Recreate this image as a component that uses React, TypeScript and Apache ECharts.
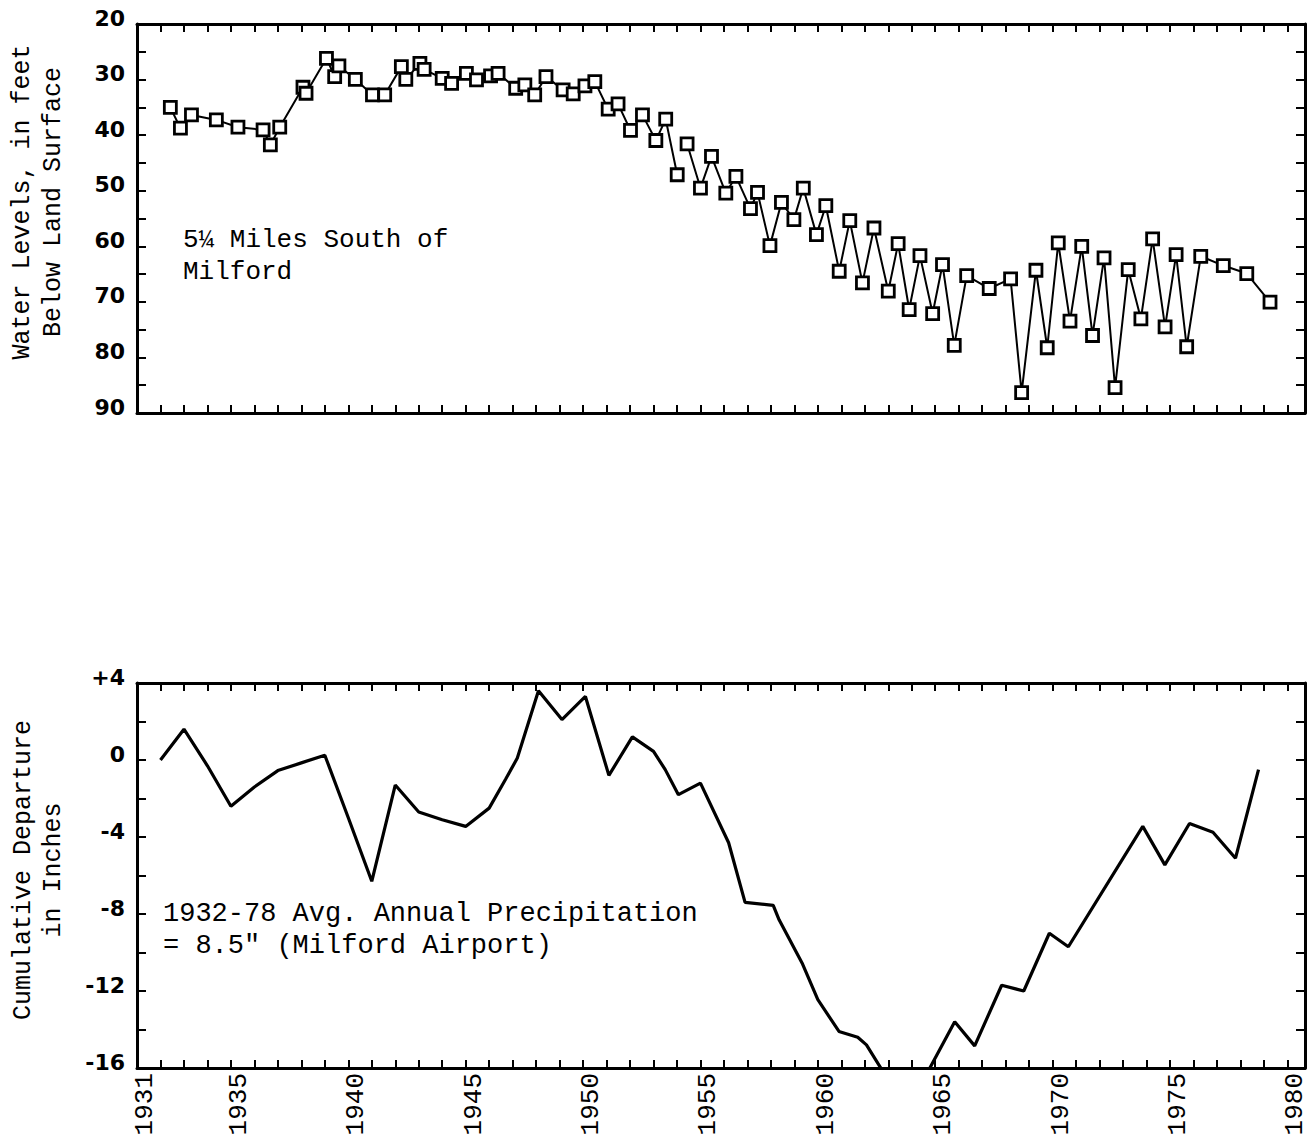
import React, { useEffect, useRef } from "react";
import * as echarts from "echarts";

// Water levels (feet below land surface), 5 1/4 miles south of Milford
const levelYears = [
  1932.42, 1932.85, 1933.32, 1934.38, 1935.3, 1936.37, 1936.68, 1937.08, 1938.07, 1938.2,
  1939.07, 1939.42, 1939.6, 1940.3, 1941.03, 1941.55, 1942.26, 1942.45, 1943.05, 1943.23,
  1944.0, 1944.4, 1945.03, 1945.46, 1946.06, 1946.38, 1947.13, 1947.52, 1947.94, 1948.42,
  1949.15, 1949.58, 1950.08, 1950.5, 1951.07, 1951.49, 1952.02, 1952.53, 1953.1, 1953.52,
  1954.01, 1954.2, 1954.43, 1955.0, 1955.47, 1956.08, 1956.51, 1957.13, 1957.43, 1957.96,
  1958.45, 1958.98, 1959.38, 1959.94, 1960.34, 1960.91, 1961.36, 1961.9, 1962.39, 1963.0,
  1963.42, 1963.89, 1964.35, 1964.89, 1965.31, 1965.81, 1966.34, 1967.3, 1968.21, 1968.68,
  1969.29, 1969.77, 1970.24, 1970.74, 1971.24, 1971.7, 1972.19, 1972.66, 1973.22, 1973.76,
  1974.26, 1974.79, 1975.26, 1975.71, 1976.31, 1977.27, 1978.27, 1979.26,
];
const levelValues: (number | null)[] = [
  35.0, 38.75, 36.36, 37.26, 38.57, 39.05, 41.75, 38.57, 31.38, 32.46,
  26.17, 29.47, 27.55, 29.95, 32.76, 32.76, 27.67, 29.95, 27.07, 28.15,
  29.77, 30.67, 28.87, 30.07, 29.35, 28.87, 31.56, 30.96, 32.76, 29.47,
  31.86, 32.58, 31.14, 30.37, 35.33, 34.37, 39.16, 36.35, 40.96, 37.13,
  47.13, null, 41.56, 49.52, 43.83, 50.42, 47.43, 53.23, 50.3, 59.88,
  52.1, 55.2, 49.52, 57.9, 52.7, 64.49, 55.39, 66.59, 56.71, 68.08,
  59.52, 71.38, 61.68, 72.1, 63.29, 77.84, 65.27, 67.6, 65.87, 86.35,
  64.31, 78.26, 59.4, 73.47, 60.0, 76.05, 62.1, 85.45, 64.19, 73.05,
  58.68, 74.49, 61.5, 78.08, 61.8, 63.47, 64.91, 70.06,
];

// Cumulative departure from 1932-78 average annual precipitation (inches)
const precipYears = [
  1932, 1933, 1934, 1935, 1936, 1937, 1938, 1939, 1940, 1941,
  1942, 1943, 1944, 1945, 1946, 1946.7, 1947.2, 1948.1, 1949.1, 1950.1,
  1951.1, 1952.1, 1953, 1953.5, 1954.06, 1955, 1956.2, 1956.9, 1958.1, 1958.35,
  1959.35, 1960, 1960.9, 1961.7, 1962.07, 1963.8, 1965.83, 1966.68, 1967.83, 1968.77,
  1969.86, 1970.67, 1973.84, 1974.78, 1975.83, 1976.83, 1977.79, 1978.77,
];
const precipValues = [
  0.0, 1.6, -0.3, -2.4, -1.4, -0.55, -0.15, 0.25, -3.0, -6.3,
  -1.3, -2.7, -3.1, -3.45, -2.5, -1.0, 0.1, 3.6, 2.1, 3.3,
  -0.8, 1.2, 0.45, -0.5, -1.8, -1.2, -4.3, -7.4, -7.55, -8.3,
  -10.6, -12.45, -14.1, -14.4, -14.8, -18.2, -13.6, -14.85, -11.7, -12.0,
  -9.0, -9.7, -3.45, -5.45, -3.3, -3.75, -5.1, -0.5,
];

const xLabelYears = [1931, 1935, 1940, 1945, 1950, 1955, 1960, 1965, 1970, 1975, 1980];
const levelLabelValues = [20, 30, 40, 50, 60, 70, 80, 90];
const precipLabelValues = [4, 0, -4, -8, -12, -16];

const X_MIN = 1931;
const X_MAX = 1980.75;

const MONO = "'Liberation Mono', 'DejaVu Sans Mono', monospace";
const BOLD_SANS = "'DejaVu Sans', 'Liberation Sans', sans-serif";

export default function App() {
  const ref = useRef<HTMLDivElement>(null);

  useEffect(() => {
    if (!ref.current) return;
    const chart = echarts.init(ref.current, undefined, { renderer: "svg" });

    const levelData = levelYears.map((y, i) => [y, levelValues[i] == null ? "-" : levelValues[i]]);
    const precipData = precipYears.map((y, i) => [y, precipValues[i]]);

    const frameLine = { show: true, onZero: false, lineStyle: { color: "#000", width: 3 } };
    const tick = (len: number) => ({
      show: true,
      inside: true,
      length: len,
      lineStyle: { color: "#000", width: 2 },
    });

    const xBase = {
      type: "value" as const,
      min: X_MIN,
      max: X_MAX,
      interval: 1,
      axisLine: frameLine,
      axisTick: tick(8),
      splitLine: { show: false },
    };

    const yLabel = (fmt: (v: number) => string) => ({
      show: true,
      margin: 12,
      color: "#000",
      fontFamily: BOLD_SANS,
      fontWeight: "bold",
      fontSize: 22,
      verticalAlign: "bottom",
      lineHeight: 12,
      formatter: fmt,
    });

    const option: any = {
      animation: false,
      backgroundColor: "#fff",
      grid: [
        { left: 137, top: 24, width: 1168, height: 389, containLabel: false },
        { left: 137, top: 683, width: 1168, height: 385, containLabel: false },
      ],
      xAxis: [
        { ...xBase, gridIndex: 0, position: "bottom", axisLabel: { show: false } },
        { ...xBase, gridIndex: 0, position: "top", axisLabel: { show: false } },
        {
          ...xBase,
          gridIndex: 1,
          position: "bottom",
          axisLabel: {
            show: true,
            rotate: 90,
            margin: 5,
            color: "#000",
            fontFamily: MONO,
            fontSize: 26,
            verticalAlign: "top",
            lineHeight: 16,
            formatter: (v: number) => (xLabelYears.indexOf(Math.round(v * 100) / 100) >= 0 ? String(v) : ""),
          },
        },
        { ...xBase, gridIndex: 1, position: "top", axisLabel: { show: false } },
      ],
      yAxis: [
        {
          type: "value",
          gridIndex: 0,
          position: "left",
          inverse: true,
          min: 20,
          max: 90,
          interval: 5,
          axisLine: frameLine,
          axisTick: tick(9),
          splitLine: { show: false },
          axisLabel: yLabel((v: number) => (levelLabelValues.indexOf(v) >= 0 ? String(v) : "")),
        },
        {
          type: "value",
          gridIndex: 0,
          position: "right",
          inverse: true,
          min: 20,
          max: 90,
          interval: 5,
          axisLine: frameLine,
          axisTick: tick(9),
          splitLine: { show: false },
          axisLabel: { show: false },
        },
        {
          type: "value",
          gridIndex: 1,
          position: "left",
          min: -16,
          max: 4,
          interval: 2,
          axisLine: frameLine,
          axisTick: tick(9),
          splitLine: { show: false },
          axisLabel: yLabel((v: number) =>
            precipLabelValues.indexOf(v) >= 0 ? (v > 0 ? "+" + v : String(v)) : ""
          ),
        },
        {
          type: "value",
          gridIndex: 1,
          position: "right",
          min: -16,
          max: 4,
          interval: 2,
          axisLine: frameLine,
          axisTick: tick(9),
          splitLine: { show: false },
          axisLabel: { show: false },
        },
      ],
      series: [
        {
          type: "line",
          name: "Water level",
          xAxisIndex: 0,
          yAxisIndex: 0,
          data: levelData,
          connectNulls: false,
          symbol: "rect",
          symbolSize: 12,
          showSymbol: true,
          itemStyle: { color: "#fff", borderColor: "#000", borderWidth: 2.8 },
          lineStyle: { color: "#000", width: 2 },
          z: 3,
        },
        {
          type: "line",
          name: "Cumulative departure",
          xAxisIndex: 2,
          yAxisIndex: 2,
          data: precipData,
          showSymbol: false,
          symbol: "none",
          clip: true,
          lineStyle: { color: "#000", width: 3.2 },
          z: 3,
        },
      ],
      graphic: [
        {
          type: "text",
          x: 38,
          y: 202,
          rotation: Math.PI / 2,
          style: {
            text: "Water Levels, in feet\nBelow Land Surface",
            font: `25px ${MONO}`,
            fill: "#000",
            lineHeight: 31,
            align: "center",
            verticalAlign: "middle",
            textAlign: "center",
            textVerticalAlign: "middle",
          },
        },
        {
          type: "text",
          x: 38,
          y: 870,
          rotation: Math.PI / 2,
          style: {
            text: "Cumulative Departure\nin Inches",
            font: `25px ${MONO}`,
            fill: "#000",
            lineHeight: 30,
            align: "center",
            verticalAlign: "middle",
            textAlign: "center",
            textVerticalAlign: "middle",
          },
        },
        {
          type: "text",
          x: 183,
          y: 224,
          style: {
            text: "5\u00BC Miles South of\nMilford",
            font: `26px ${MONO}`,
            fill: "#000",
            lineHeight: 32,
            align: "left",
            verticalAlign: "top",
            textAlign: "left",
            textVerticalAlign: "top",
          },
        },
        {
          type: "text",
          x: 163,
          y: 898,
          style: {
            text: "1932-78 Avg. Annual Precipitation\n= 8.5\" (Milford Airport)",
            font: `27px ${MONO}`,
            fill: "#000",
            lineHeight: 32,
            align: "left",
            verticalAlign: "top",
            textAlign: "left",
            textVerticalAlign: "top",
          },
        },
      ],
    };

    chart.setOption(option);
    return () => chart.dispose();
  }, []);

  return (
    <div
      ref={ref}
      style={{ position: "absolute", left: 0, top: 0, width: 1315, height: 1142, background: "#fff" }}
    />
  );
}
